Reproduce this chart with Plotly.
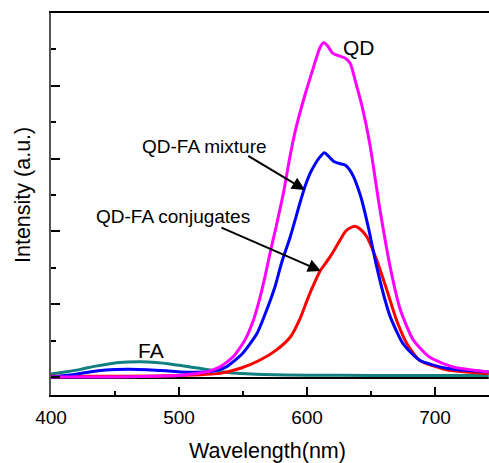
import plotly.graph_objects as go

# ---- data ----
qd_x = [400, 450, 480, 500, 510, 521.6, 532, 542.4, 551.6, 558.1, 562.8, 567.2, 571.1, 575.8, 581.5, 586.2, 591, 598, 605, 610, 613, 616, 620, 625, 630, 634, 638, 643, 649, 657, 665, 673, 683, 696, 714, 742]
qd_y = [0.0, 0.0, 0.01, 0.02, 0.04, 0.07, 0.14, 0.28, 0.51, 0.78, 1.06, 1.38, 1.70, 2.06, 2.52, 2.98, 3.39, 3.85, 4.25, 4.52, 4.59, 4.55, 4.45, 4.41, 4.38, 4.30, 4.05, 3.72, 3.21, 2.30, 1.51, 0.92, 0.51, 0.27, 0.14, 0.07]

mix_x = [400, 417, 430, 443, 460, 475, 490, 501, 513, 524, 537, 550, 561, 568.5, 575, 580, 587, 594.5, 598.5, 602.5, 606.5, 610, 613.5, 617, 621, 626, 630, 635, 642, 648, 654, 660, 665, 675, 688, 709, 742]
mix_y = [0.0, 0.03, 0.07, 0.096, 0.105, 0.10, 0.085, 0.07, 0.065, 0.075, 0.14, 0.33, 0.60, 0.92, 1.24, 1.56, 1.93, 2.39, 2.62, 2.80, 2.93, 3.02, 3.08, 3.03, 2.96, 2.93, 2.91, 2.80, 2.48, 2.05, 1.55, 1.12, 0.83, 0.46, 0.23, 0.12, 0.07]

conj_x = [400, 450, 500, 532, 548, 563, 576, 587, 594.5, 600, 604, 610, 618, 624.5, 630, 634, 637.5, 641, 646.6, 654.4, 662.3, 670, 678, 688, 709, 742]
conj_y = [0.01, 0.01, 0.02, 0.05, 0.12, 0.23, 0.37, 0.55, 0.80, 1.05, 1.22, 1.45, 1.65, 1.84, 2.0, 2.05, 2.07, 2.04, 1.93, 1.61, 1.2, 0.78, 0.46, 0.23, 0.10, 0.05]

fa_x = [400, 411, 423, 435, 449, 460, 470, 482, 493, 504, 516, 527, 540, 553, 566, 600, 650, 700, 742]
fa_y = [0.04, 0.07, 0.105, 0.15, 0.19, 0.205, 0.21, 0.2, 0.18, 0.15, 0.12, 0.09, 0.06, 0.045, 0.035, 0.025, 0.022, 0.02, 0.02]

base_x = [400, 500, 600, 700, 742]
base_y = [-0.015, -0.015, -0.015, -0.015, -0.015]

x_ticks = [400, 500, 600, 700]
x_ticklabels = ["400", "500", "600", "700"]

FONT = "Arial, Liberation Sans, sans-serif"
SM = 0.6

fig = go.Figure()
fig.add_trace(go.Scatter(x=base_x, y=base_y, mode="lines", line=dict(color="black", width=2)))
fig.add_trace(go.Scatter(x=fa_x, y=fa_y, mode="lines", line=dict(color="#138080", width=3, shape="spline", smoothing=SM)))
fig.add_trace(go.Scatter(x=conj_x, y=conj_y, mode="lines", line=dict(color="#FF0000", width=3, shape="spline", smoothing=SM)))
fig.add_trace(go.Scatter(x=mix_x, y=mix_y, mode="lines", line=dict(color="#0000FF", width=3, shape="spline", smoothing=SM)))
fig.add_trace(go.Scatter(x=qd_x, y=qd_y, mode="lines", line=dict(color="#FF00FF", width=3, shape="spline", smoothing=SM)))

annotations = [
    dict(x=640.6, y=4.52, xref="x", yref="y", text="QD", showarrow=False, font=dict(size=21, color="black", family=FONT)),
    dict(x=520.3, y=3.16, xref="x", yref="y", text="QD-FA mixture", showarrow=False, font=dict(size=19, color="black", family=FONT)),
    dict(x=495.0, y=2.21, xref="x", yref="y", text="QD-FA conjugates", showarrow=False, font=dict(size=19, color="black", family=FONT)),
    dict(x=477.9, y=0.37, xref="x", yref="y", text="FA", showarrow=False, font=dict(size=21, color="black", family=FONT)),
    dict(x=598.4, y=2.57, ax=552.9, ay=3.05, xref="x", yref="y", axref="x", ayref="y", text="", showarrow=True,
         arrowhead=2, arrowsize=1.3, arrowwidth=2, arrowcolor="black", standoff=0, startstandoff=0),
    dict(x=610.9, y=1.456, ax=532.0, ay=2.06, xref="x", yref="y", axref="x", ayref="y", text="", showarrow=True,
         arrowhead=2, arrowsize=1.3, arrowwidth=2, arrowcolor="black", standoff=0, startstandoff=0),
    dict(x=(23 - 51) / 438, y=(395 - 195) / 382, xref="paper", yref="paper", xanchor="center", yanchor="middle",
         text="Intensity (a.u.)", textangle=-90, showarrow=False,
         font=dict(size=21.5, color="black", family=FONT)),
    dict(x=(267.5 - 51) / 438, y=(395 - 451) / 382, xref="paper", yref="paper", xanchor="center", yanchor="middle",
         text="Wavelength(nm)", showarrow=False,
         font=dict(size=21.5, color="black", family=FONT)),
]

fig.update_layout(
    width=489, height=463,
    margin=dict(l=51, r=0, t=13, b=68),
    paper_bgcolor="white", plot_bgcolor="white",
    showlegend=False,
    annotations=annotations,
    xaxis=dict(
        range=[400, 742.2], showgrid=False, zeroline=False,
        showline=True, linecolor="black", linewidth=2, mirror=True,
        ticks="inside", ticklen=8, tickwidth=1.5, tickcolor="black",
        tickmode="array", tickvals=x_ticks, ticktext=x_ticklabels,
        tickfont=dict(size=19, color="black", family=FONT),
        ticklabelstandoff=4,
        minor=dict(dtick=50, tick0=400, ticks="inside", ticklen=4, tickwidth=1.5, tickcolor="black", showgrid=False),
    ),
    yaxis=dict(
        range=[-0.247, 5.0], showgrid=False, zeroline=False,
        showline=True, linecolor="#555555", linewidth=2,
        ticks="inside", ticklen=9, tickwidth=1.5, tickcolor="black",
        dtick=1, tick0=0, showticklabels=False,
        minor=dict(dtick=0.5, tick0=0, ticks="inside", ticklen=5, tickwidth=1.5, tickcolor="black", showgrid=False),
    ),
)

fig.write_html("out.html")
